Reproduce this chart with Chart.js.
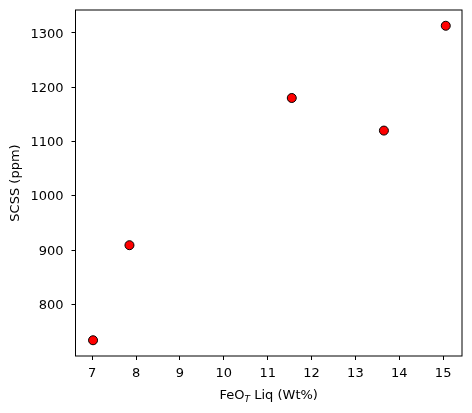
<!DOCTYPE html>
<html>
<head>
<meta charset="utf-8">
<script src="https://cdn.jsdelivr.net/npm/chart.js@4"></script>
<style>
  body { margin: 0; background: #fff; }
</style>
</head>
<body>
<canvas id="myChart" width="472" height="413"></canvas>
<script>
const feoT = [7.02, 7.85, 11.55, 13.65, 15.06];
const scss = [734, 909, 1180, 1120, 1313];
const xTicks = [7, 8, 9, 10, 11, 12, 13, 14, 15];
const yTicks = [800, 900, 1000, 1100, 1200, 1300];

const fontFamily = "'DejaVu Sans', sans-serif";
const labelFont = '13px ' + fontFamily;

// frame, tick labels and x title (with subscript T)
const framePlugin = {
    id: 'frame',
    afterDraw(chart) {
        const ctx = chart.ctx;
        const a = chart.chartArea;
        const xs = chart.scales.x, ys = chart.scales.y;
        ctx.save();
        ctx.strokeStyle = '#000';
        ctx.lineWidth = 1;
        ctx.strokeRect(a.left, a.top, a.right - a.left, a.bottom - a.top);

        ctx.fillStyle = '#000';
        ctx.font = labelFont;
        ctx.textBaseline = 'alphabetic';
        ctx.textAlign = 'center';
        xTicks.forEach(v => ctx.fillText(String(v), xs.getPixelForValue(v), a.bottom + 21));
        ctx.textAlign = 'right';
        yTicks.forEach(v => ctx.fillText(String(v), a.left - 12, ys.getPixelForValue(v) + 4.7));

        const small = 'italic 9px ' + fontFamily;
        const p1 = 'FeO', p2 = 'T', p3 = ' Liq (Wt%)';
        ctx.font = labelFont;
        const w1 = ctx.measureText(p1).width;
        const w3 = ctx.measureText(p3).width;
        ctx.font = small;
        const w2 = ctx.measureText(p2).width;
        let x = (a.left + a.right) / 2 - (w1 + w2 + w3) / 2;
        const base = 399;
        ctx.textAlign = 'left';
        ctx.font = labelFont;
        ctx.fillText(p1, x, base);
        x += w1;
        ctx.font = small;
        ctx.fillText(p2, x, base + 3);
        x += w2;
        ctx.font = labelFont;
        ctx.fillText(p3, x, base);
        ctx.restore();
    }
};

new Chart("myChart", {
    type: "scatter",
    data: {
        datasets: [{
            label: "SCSS",
            data: feoT.map((v, i) => ({x: v, y: scss[i]})),
            backgroundColor: "#ff0000",
            borderColor: "#000000",
            borderWidth: 1,
            pointRadius: 4.5
        }]
    },
    options: {
        responsive: false,
        animation: false,
        layout: {
            padding: {top: 10, right: 10, left: 0, bottom: 0}
        },
        plugins: {
            legend: {display: false},
            tooltip: {enabled: false}
        },
        scales: {
            x: {
                type: 'linear',
                min: 6.62,
                max: 15.43,
                afterBuildTicks: (s) => { s.ticks = xTicks.map(v => ({value: v})); },
                afterFit: (s) => { s.height = 57; s.paddingLeft = 0; s.paddingRight = 0; },
                border: {display: false},
                grid: {
                    drawOnChartArea: false,
                    drawTicks: true,
                    tickLength: 4,
                    color: '#000'
                },
                ticks: {display: false}
            },
            y: {
                type: 'linear',
                min: 705,
                max: 1342,
                afterBuildTicks: (s) => { s.ticks = yTicks.map(v => ({value: v})); },
                afterFit: (s) => { s.width = 75.5; s.paddingTop = 0; s.paddingBottom = 0; },
                border: {display: false},
                grid: {
                    drawOnChartArea: false,
                    drawTicks: true,
                    tickLength: 4,
                    color: '#000'
                },
                ticks: {display: false},
                title: {
                    display: true,
                    text: 'SCSS (ppm)',
                    color: '#000',
                    padding: {top: 8, bottom: 0},
                    font: {family: fontFamily, size: 13}
                }
            }
        }
    },
    plugins: [framePlugin]
});
</script>
</body>
</html>
